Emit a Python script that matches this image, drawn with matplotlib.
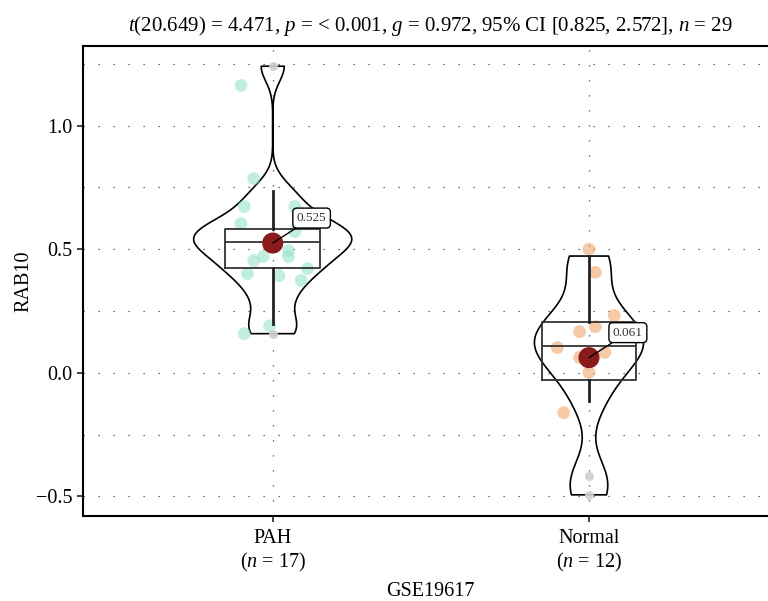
import numpy as np
import matplotlib.pyplot as plt

plt.rcParams['font.family'] = ['Liberation Serif', 'DejaVu Serif']
plt.rcParams['mathtext.fontset'] = 'custom'
plt.rcParams['mathtext.rm'] = 'Liberation Serif'
plt.rcParams['mathtext.it'] = 'Liberation Serif:italic'

# Estimated expression values (match box, mean and violin of the figure)
groups = ['PAH', 'Normal']
pah_expr = [0.158, 0.198, 0.30, 0.37, 0.422, 0.43, 0.48, 0.50, 0.527, 0.54,
            0.56, 0.575, 0.583, 0.62, 0.68, 0.734, 1.24]
normal_expr = [-0.494, -0.417, -0.116, -0.001, 0.06, 0.09, 0.124, 0.16, 0.19,
               0.25, 0.414, 0.472]

# jittered points as they appear in the figure
pah_pts = [1.162, 0.785, 0.672, 0.672, 0.603, 0.571, 0.494, 0.470, 0.470, 0.453,
           0.401, 0.393, 0.421, 0.373, 0.190, 0.158]
pah_jit = [-0.10, -0.06, -0.09, 0.07, -0.10, 0.07, 0.05, 0.05, -0.03, -0.06,
           -0.08, 0.02, 0.11, 0.09, -0.01, -0.09]
norm_pts = [0.500, 0.406, 0.231, 0.186, 0.166, 0.102, 0.082, 0.062, 0.001, -0.162]
norm_jit = [0.00, 0.02, 0.08, 0.02, -0.03, -0.10, 0.05, -0.03, 0.00, -0.08]

violin_widths = [0.50, 0.345]

title = (r'$t$(20.649) = 4.471, $p$ = < 0.001, $g$ = 0.972, '
         r'95% CI [0.825, 2.572], $n$ = 29')

fig = plt.figure(figsize=(7.68, 6.01), dpi=100)
ax = fig.add_axes([0.108, 0.1414, 0.906, 0.782])

data = [np.array(pah_expr), np.array(normal_expr)]

# violins (kde with R's bw.nrd0 rule)
for i, d in enumerate(data):
    sd = d.std(ddof=1)
    iqr = np.subtract(*np.percentile(d, [75, 25]))
    bw = 0.9 * min(sd, iqr / 1.34) * len(d) ** -0.2
    vp = ax.violinplot([d], positions=[i + 1], widths=violin_widths[i],
                       showextrema=False, bw_method=bw / sd, points=300)
    for b in vp['bodies']:
        b.set_facecolor('none')
        b.set_edgecolor('black')
        b.set_linewidth(1.2)
        b.set_alpha(1)

# jittered points
ax.scatter(1 + np.array(pah_jit), pah_pts, s=85, color='#8fe3c5', alpha=0.55,
           edgecolors='none', zorder=3)
ax.scatter(2 + np.array(norm_jit), norm_pts, s=85, color='#f0a060', alpha=0.55,
           edgecolors='none', zorder=3)

# boxes
ax.boxplot(data, positions=[1, 2], widths=0.3, showcaps=False,
           boxprops=dict(color='#333333', linewidth=1.3),
           medianprops=dict(color='#333333', linewidth=1.3),
           whiskerprops=dict(color='#222222', linewidth=2),
           flierprops=dict(marker='o', markersize=6.5, markerfacecolor='#cfcfcf',
                           markeredgecolor='none', alpha=0.9),
           manage_ticks=False, zorder=4)

# means + labels
for i, d in enumerate(data):
    m = d.mean()
    ax.scatter([i + 1], [m], s=230, color='#8b1a1a', zorder=5, edgecolors='none')
    ax.annotate(f'{m:.3f}', xy=(i + 1, m), xytext=(28, 18), textcoords='offset points',
                ha='center', va='center', fontsize=9.5, color='#333333',
                bbox=dict(boxstyle='round,pad=0.3', fc='white', ec='black', lw=1),
                arrowprops=dict(arrowstyle='-', color='black', lw=1,
                                shrinkA=0, shrinkB=0), zorder=6)

ax.set_xlim(0.4, 2.6)
ax.set_ylim(-0.5797, 1.3216)
ax.set_xticks([1, 2])
ax.set_xticklabels([f'{g}\n($n$ = {len(d)})' for g, d in zip(groups, data)])
ax.set_yticks([-0.5, 0.0, 0.5, 1.0])
ax.set_yticklabels(['\u22120.5', '0.0', '0.5', '1.0'])
ax.set_yticks([-0.25, 0.25, 0.75, 1.25], minor=True)
ax.tick_params(axis='both', labelsize=14.5, length=4, width=1.2, color='#222222')
ax.tick_params(axis='x', pad=5)
ax.tick_params(axis='y', which='minor', length=0)
ax.grid(True, which='both', linestyle=(0, (1, 11)), color='#444444', linewidth=0.9)
ax.set_axisbelow(True)
for s in ax.spines.values():
    s.set_linewidth(1.5)
    s.set_color('black')

ax.set_xlabel('GSE19617', fontsize=14.5, labelpad=6)
ax.set_ylabel('RAB10', fontsize=14.5, labelpad=2)
ax.set_title(title, fontsize=15, pad=11)

fig.savefig('out.png', dpi=100)
